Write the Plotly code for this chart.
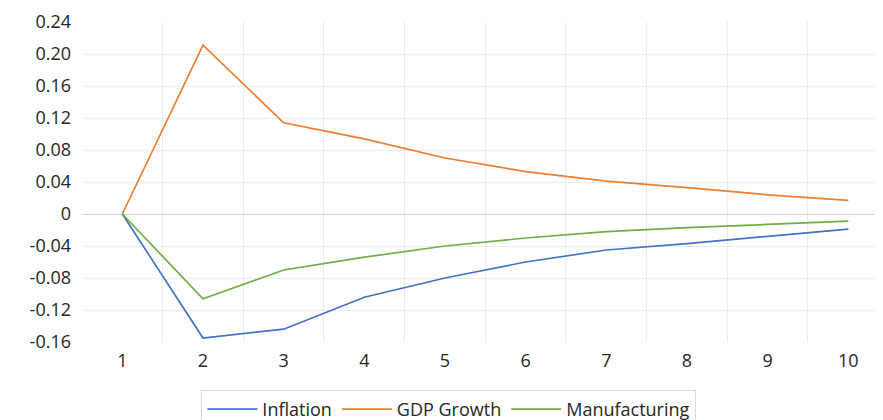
import plotly.graph_objects as go

periods = [1, 2, 3, 4, 5, 6, 7, 8, 9, 10]
inflation = [0, -0.155, -0.144, -0.104, -0.080, -0.060, -0.045, -0.037, -0.028, -0.019]
gdp_growth = [0, 0.211, 0.114, 0.094, 0.070, 0.053, 0.041, 0.033, 0.024, 0.017]
manufacturing = [0, -0.106, -0.070, -0.054, -0.040, -0.030, -0.022, -0.017, -0.013, -0.009]

y_ticks = [-0.16, -0.12, -0.08, -0.04, 0, 0.04, 0.08, 0.12, 0.16, 0.20, 0.24]
y_labels = ["-0.16", "-0.12", "-0.08", "-0.04", "0", "0.04", "0.08", "0.12", "0.16", "0.20", "0.24"]

SERIES = [
    ("Inflation", inflation, "#4472C4"),
    ("GDP Growth", gdp_growth, "#ED7D31"),
    ("Manufacturing", manufacturing, "#70AD47"),
]

fig = go.Figure()
for name, vals, color in SERIES:
    fig.add_trace(go.Scatter(
        x=periods, y=vals, name=name, mode="lines",
        line=dict(color=color, width=1.7),
    ))

# page body has an 8px margin, so the figure is offset by 8px in the window
fig.update_layout(
    width=883,
    height=420,
    margin=dict(l=74, r=8, t=14, b=86, autoexpand=False),
    plot_bgcolor="white",
    paper_bgcolor="white",
    font=dict(family="Open Sans", size=18, color="#262626"),
    legend=dict(
        orientation="h", x=0.458, xanchor="center", y=-0.15, yanchor="top",
        bordercolor="#d9d9d9", borderwidth=1, font=dict(size=18),
        itemwidth=50,
    ),
    xaxis=dict(
        range=[0.5, 10.43],
        tickvals=periods,
        ticktext=[str(p) for p in periods],
        showgrid=False,
        zeroline=False,
        ticks="",
        ticklabelstandoff=6,
        minor=dict(tickvals=[p + 0.5 for p in periods[:-1]], showgrid=True,
                   gridcolor="#ebebeb", gridwidth=1),
    ),
    yaxis=dict(
        range=[-0.16, 0.24],
        tickvals=y_ticks,
        ticktext=y_labels,
        showgrid=True,
        gridcolor="#ebebeb",
        zeroline=True,
        zerolinecolor="#d4d4d4",
        zerolinewidth=1,
        ticks="",
        ticklabelstandoff=10,
    ),
)

fig.write_html("out.html")
